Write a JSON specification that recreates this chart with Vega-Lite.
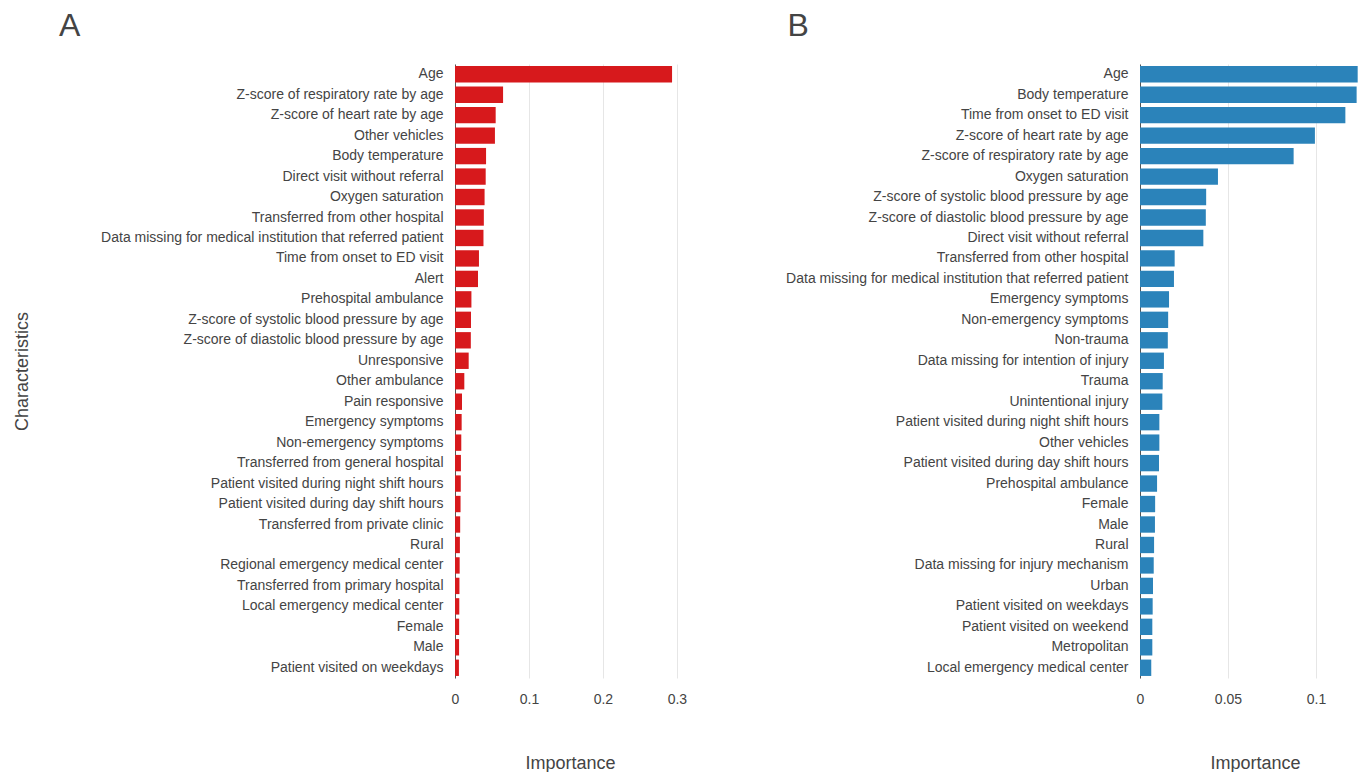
{
  "$schema": "https://vega.github.io/schema/vega-lite/v6.json",
  "background": "white",
  "padding": {"left": 12, "top": 10, "right": 0, "bottom": 0},
  "datasets": {
    "a": [
      {"feature": "Age", "importance": 0.2935},
      {"feature": "Z-score of respiratory rate by age", "importance": 0.065},
      {"feature": "Z-score of heart rate by age", "importance": 0.055},
      {"feature": "Other vehicles", "importance": 0.054},
      {"feature": "Body temperature", "importance": 0.042},
      {"feature": "Direct visit without referral", "importance": 0.0415},
      {"feature": "Oxygen saturation", "importance": 0.040},
      {"feature": "Transferred from other hospital", "importance": 0.039},
      {"feature": "Data missing for medical institution that referred patient", "importance": 0.0385},
      {"feature": "Time from onset to ED visit", "importance": 0.0324},
      {"feature": "Alert", "importance": 0.0311},
      {"feature": "Prehospital ambulance", "importance": 0.0222},
      {"feature": "Z-score of systolic blood pressure by age", "importance": 0.0216},
      {"feature": "Z-score of diastolic blood pressure by age", "importance": 0.0214},
      {"feature": "Unresponsive", "importance": 0.0185},
      {"feature": "Other ambulance", "importance": 0.0126},
      {"feature": "Pain responsive", "importance": 0.0095},
      {"feature": "Emergency symptoms", "importance": 0.009},
      {"feature": "Non-emergency symptoms", "importance": 0.0085},
      {"feature": "Transferred from general hospital", "importance": 0.008},
      {"feature": "Patient visited during night shift hours", "importance": 0.0078},
      {"feature": "Patient visited during day shift hours", "importance": 0.0075},
      {"feature": "Transferred from private clinic", "importance": 0.007},
      {"feature": "Rural", "importance": 0.0066},
      {"feature": "Regional emergency medical center", "importance": 0.0063},
      {"feature": "Transferred from primary hospital", "importance": 0.006},
      {"feature": "Local emergency medical center", "importance": 0.0058},
      {"feature": "Female", "importance": 0.0056},
      {"feature": "Male", "importance": 0.0055},
      {"feature": "Patient visited on weekdays", "importance": 0.0053}
    ],
    "b": [
      {"feature": "Age", "importance": 0.1237},
      {"feature": "Body temperature", "importance": 0.1231},
      {"feature": "Time from onset to ED visit", "importance": 0.1167},
      {"feature": "Z-score of heart rate by age", "importance": 0.0994},
      {"feature": "Z-score of respiratory rate by age", "importance": 0.0873},
      {"feature": "Oxygen saturation", "importance": 0.0443},
      {"feature": "Z-score of systolic blood pressure by age", "importance": 0.0376},
      {"feature": "Z-score of diastolic blood pressure by age", "importance": 0.0374},
      {"feature": "Direct visit without referral", "importance": 0.036},
      {"feature": "Transferred from other hospital", "importance": 0.0197},
      {"feature": "Data missing for medical institution that referred patient", "importance": 0.0193},
      {"feature": "Emergency symptoms", "importance": 0.0165},
      {"feature": "Non-emergency symptoms", "importance": 0.016},
      {"feature": "Non-trauma", "importance": 0.0158},
      {"feature": "Data missing for intention of injury", "importance": 0.0136},
      {"feature": "Trauma", "importance": 0.0129},
      {"feature": "Unintentional injury", "importance": 0.0127},
      {"feature": "Patient visited during night shift hours", "importance": 0.011},
      {"feature": "Other vehicles", "importance": 0.011},
      {"feature": "Patient visited during day shift hours", "importance": 0.0108},
      {"feature": "Prehospital ambulance", "importance": 0.0097},
      {"feature": "Female", "importance": 0.0086},
      {"feature": "Male", "importance": 0.0085},
      {"feature": "Rural", "importance": 0.008},
      {"feature": "Data missing for injury mechanism", "importance": 0.0078},
      {"feature": "Urban", "importance": 0.0074},
      {"feature": "Patient visited on weekdays", "importance": 0.0072},
      {"feature": "Patient visited on weekend", "importance": 0.007},
      {"feature": "Metropolitan", "importance": 0.007},
      {"feature": "Local emergency medical center", "importance": 0.0064}
    ]
  },
  "config": {
    "font": "Liberation Sans",
    "view": {"stroke": null},
    "axis": {
      "labelFont": "Liberation Sans",
      "labelFontSize": 14,
      "labelColor": "#444444",
      "labelLimit": 400,
      "labelFlush": false,
      "titleFont": "Liberation Sans",
      "titleFontSize": 18,
      "titleFontWeight": "normal",
      "titleColor": "#444444"
    },
    "title": {"font": "Liberation Sans", "fontSize": 32, "fontWeight": "normal", "color": "#444444", "anchor": "start"}
  },
  "spacing": 98,
  "hconcat": [
    {
      "title": {"text": "A", "dx": 46, "offset": 21},
      "data": {"name": "a"},
      "mark": {"type": "bar", "color": "#d7191c"},
      "width": 230,
      "height": 614,
      "encoding": {
        "y": {
          "field": "feature", "type": "nominal", "sort": null, "title": "Characteristics",
          "scale": {"paddingInner": 0.2, "paddingOuter": 0.1},
          "axis": {"ticks": false, "labelPadding": 12, "domainColor": "#555555", "titleX": -424, "titleY": 307, "grid": false}
        },
        "x": {
          "field": "importance", "type": "quantitative", "title": "Importance",
          "scale": {"domain": [0, 0.311], "nice": false},
          "axis": {"values": [0, 0.1, 0.2, 0.3], "format": "~g", "domain": false, "ticks": false, "labelPadding": 14, "titlePadding": 48, "gridColor": "#e6e6e6"}
        }
      }
    },
    {
      "title": {"text": "B", "dx": 2, "offset": 21},
      "data": {"name": "b"},
      "mark": {"type": "bar", "color": "#2b83ba"},
      "width": 230,
      "height": 614,
      "encoding": {
        "y": {
          "field": "feature", "type": "nominal", "sort": null, "title": null,
          "scale": {"paddingInner": 0.2, "paddingOuter": 0.1},
          "axis": {"ticks": false, "labelPadding": 12, "domainColor": "#555555", "grid": false}
        },
        "x": {
          "field": "importance", "type": "quantitative", "title": "Importance",
          "scale": {"domain": [0, 0.1307], "nice": false},
          "axis": {"values": [0, 0.05, 0.1], "format": "~g", "domain": false, "ticks": false, "labelPadding": 14, "titlePadding": 48, "gridColor": "#e6e6e6"}
        }
      }
    }
  ]
}
